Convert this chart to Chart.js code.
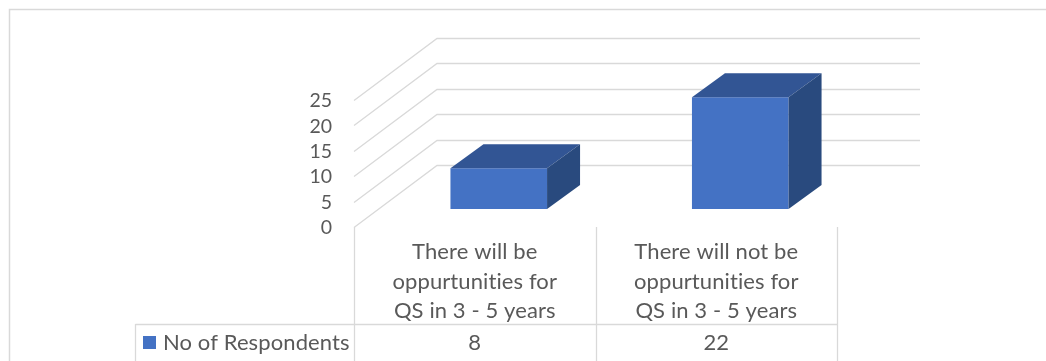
<!DOCTYPE html>
<html>
<head>
<meta charset="utf-8">
<script src="https://cdn.jsdelivr.net/npm/chart.js@4.4.1/dist/chart.umd.min.js"></script>
<style>
html, body { margin: 0; padding: 0; background: #fff; }
#wrap { width: 1046px; height: 361px; }
</style>
</head>
<body>
<div id="wrap"><canvas id="mychart" width="1046" height="361"></canvas></div>
<script>
// chart values
const categories = [
    ["There will be", "oppurtunities for", "QS in 3 - 5 years"],
    ["There will not be", "oppurtunities for", "QS in 3 - 5 years"]
];
const seriesName = "No of Respondents";
const respondents = [8, 22];
const yTicks = [0, 5, 10, 15, 20, 25];

// fake 3d offsets, relative to the plane the bar fronts sit on
const barDepth = { dx: 33, dy: -24 };
const wallShift = { dx: 59, dy: -44 };
const floorShift = { dx: -24, dy: 18 };

const gridColor = "#d9d9d9";
const textColor = "#595959";
const frontColor = "#4472c4";
const topColor = "#325594";
const sideColor = "#294a7e";

function line(ctx, pts) {
    ctx.beginPath();
    ctx.moveTo(pts[0][0], pts[0][1]);
    for (let i = 1; i < pts.length; i++) ctx.lineTo(pts[i][0], pts[i][1]);
    ctx.stroke();
}

function poly(ctx, pts, color) {
    ctx.beginPath();
    ctx.moveTo(pts[0][0], pts[0][1]);
    for (let i = 1; i < pts.length; i++) ctx.lineTo(pts[i][0], pts[i][1]);
    ctx.closePath();
    ctx.fillStyle = color;
    ctx.fill();
}

const fake3d = {
    id: 'fake3d',
    beforeDraw(chart) {
        // outer chart border, right/bottom run off the picture
        const ctx = chart.ctx;
        ctx.save();
        ctx.strokeStyle = gridColor;
        ctx.lineWidth = 1.5;
        line(ctx, [[9.5, chart.height], [9.5, 9.5], [chart.width, 9.5]]);
        ctx.restore();
    },
    beforeDatasetsDraw(chart) {
        const ctx = chart.ctx;
        const area = chart.chartArea;
        const y = chart.scales.y;
        ctx.save();
        ctx.strokeStyle = gridColor;
        ctx.lineWidth = 1.3;
        y.ticks.forEach(t => {
            const py = Math.round(y.getPixelForValue(t.value)) + 0.5;
            line(ctx, [
                [area.left + floorShift.dx, py + floorShift.dy],
                [area.left + wallShift.dx, py + wallShift.dy],
                [area.right + wallShift.dx, py + wallShift.dy]
            ]);
        });
        ctx.restore();
    },
    afterDatasetsDraw(chart) {
        const ctx = chart.ctx;
        chart.getDatasetMeta(0).data.forEach(bar => {
            const p = bar.getProps(['x', 'y', 'base', 'width'], true);
            const l = p.x - p.width / 2;
            const r = p.x + p.width / 2;
            poly(ctx, [[l, p.y], [r, p.y], [r + barDepth.dx, p.y + barDepth.dy], [l + barDepth.dx, p.y + barDepth.dy]], topColor);
            poly(ctx, [[r, p.y], [r + barDepth.dx, p.y + barDepth.dy], [r + barDepth.dx, p.base + barDepth.dy], [r, p.base]], sideColor);
        });
    },
    afterDraw(chart) {
        // data table under the plot
        const ctx = chart.ctx;
        const area = chart.chartArea;
        const y = chart.scales.y;
        const n = categories.length;
        const catW = (area.right - area.left) / n;
        const x0 = area.left + floorShift.dx;
        const top = y.getPixelForValue(0) + floorShift.dy;
        const rowY = top + 97;
        const legendLeft = 135.5;
        const bottom = chart.height;

        ctx.save();
        ctx.strokeStyle = gridColor;
        ctx.lineWidth = 1.3;
        for (let i = 0; i <= n; i++) {
            const ex = Math.round(x0 + i * catW) + 0.5;
            line(ctx, [[ex, top], [ex, bottom]]);
        }
        line(ctx, [[legendLeft, Math.round(rowY) + 0.5], [Math.round(x0 + n * catW) + 0.5, Math.round(rowY) + 0.5]]);
        line(ctx, [[legendLeft, rowY], [legendLeft, bottom]]);

        ctx.fillStyle = textColor;
        ctx.font = "22px Lato";
        ctx.letterSpacing = "0.1px"; // keeps "t" and "i" apart, no ligature
        ctx.textAlign = "center";
        ctx.textBaseline = "alphabetic";
        categories.forEach((lines, i) => {
            const cx = x0 + (i + 0.5) * catW;
            lines.forEach((txt, j) => {
                ctx.fillText(txt, cx, top + 32 + j * 29.5);
            });
            ctx.fillText(String(respondents[i]), cx, rowY + 26);
        });

        ctx.fillStyle = frontColor;
        ctx.fillRect(143, rowY + 12, 13, 13);
        ctx.fillStyle = textColor;
        ctx.textAlign = "left";
        ctx.fillText(seriesName, 163, rowY + 26);
        ctx.restore();
    }
};

var myChart = new Chart(document.getElementById('mychart'), {
    type: 'bar',
    data: {
        labels: categories,
        datasets: [{
            label: seriesName,
            data: respondents,
            backgroundColor: frontColor,
            borderWidth: 0,
            categoryPercentage: 1,
            barPercentage: 0.4
        }]
    },
    options: {
        responsive: false,
        devicePixelRatio: 1,
        animation: false,
        layout: {
            padding: { left: 298, right: 185, top: 82, bottom: 152 }
        },
        plugins: {
            legend: { display: false },
            tooltip: { enabled: false }
        },
        scales: {
            x: { display: false },
            y: {
                min: yTicks[0],
                max: yTicks[yTicks.length - 1],
                ticks: {
                    stepSize: yTicks[1] - yTicks[0],
                    autoSkip: false,
                    padding: 46,
                    labelOffset: 19,
                    color: textColor,
                    font: { family: 'Lato', size: 19.5 }
                },
                grid: { display: false, drawTicks: false },
                border: { display: false },
                afterFit: scale => { scale.width = 80; }
            }
        }
    },
    plugins: [fake3d]
});
</script>
</body>
</html>
